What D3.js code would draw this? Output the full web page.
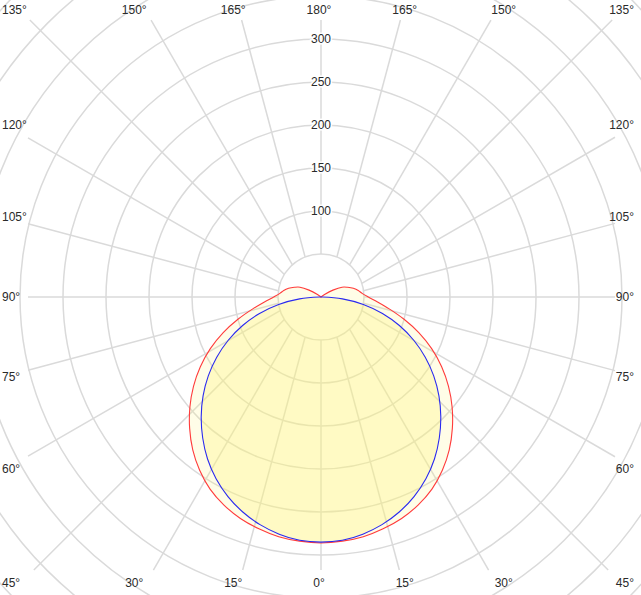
<!DOCTYPE html>
<html>
<head>
<meta charset="utf-8">
<script src="https://cdn.jsdelivr.net/npm/d3@7"></script>
<style>
  html, body { margin: 0; padding: 0; background: #fff; }
  svg { display: block; }
  text { font-family: "Liberation Sans", Arial, sans-serif; }
</style>
</head>
<body>
<script>
// ---- data ----
const gammaAngles = [0,5,10,15,20,25,30,35,40,45,50,55,60,65,70,75,80,85,90,
                     95,100,105,110,115,120,125,130,135,140,145,150,155,160,165,170,175,180];
// C0-C180 plane (red)
const planeC0C180 = [286,285,283,279,274,267,258,246,232,216,199,181,162,142,121,100,81,66,55,
                     48,44,39,33,27,16,5,1,0,0,0,0,0,0,0,0,0,0];
// C90-C270 plane (blue)
const planeC90C270 = [285,284,280,274,266,256,244,230,214,197,179,160,140,119,97,74,50,25,2,
                      0,0,0,0,0,0,0,0,0,0,0,0,0,0,0,0,0,0];
const gridValues = [50,100,150,200,250,300,350,400,450,500,550];
const valueLabels = [100,150,200,250,300];
const angleTicks = [0,15,30,45,60,75,90,105,120,135,150,165,180];

// ---- layout ----
const W = 641, H = 595;
const cx = 321, cy = 297;
const r = d3.scaleLinear().domain([0, 300]).range([0, 258]);
const lineBox = {left: cx - 293, right: cx + 294, top: cy - 277, bottom: cy + 273};
const labelHalfW = 298, labelHalfH = 320;

const svg = d3.select("body").append("svg").attr("width", W).attr("height", H);
const g = svg.append("g").attr("transform", `translate(${cx},${cy})`);
const toRad = d => d * Math.PI / 180;

// circles
g.append("g").selectAll("circle").data(gridValues).join("circle")
  .attr("r", d => r(d)).attr("fill", "none")
  .attr("stroke", "#dadada").attr("stroke-width", 1.5);

// radial lines
const spokes = [];
angleTicks.forEach(a => {
  const sides = (a === 0 || a === 180) ? [1] : [-1, 1];
  sides.forEach(s => spokes.push({a, s}));
});
const R0 = r(50);
function spokeSegment(d) {
  const th = toRad(d.a);
  const dx = d.s * Math.sin(th), dy = Math.cos(th);
  const e = -20 * Math.cos(th);
  const ox = 0, oy = e;
  const b = e * dy;
  const t0 = -b + Math.sqrt(b * b - e * e + R0 * R0);
  let t1 = Infinity;
  if (Math.abs(dx) > 1e-6) {
    const lim = dx > 0 ? (lineBox.right - cx) : (lineBox.left - cx);
    t1 = Math.min(t1, (lim - ox) / dx);
  }
  if (Math.abs(dy) > 1e-6) {
    const lim = dy > 0 ? (lineBox.bottom - cy) : (lineBox.top - cy);
    t1 = Math.min(t1, (lim - oy) / dy);
  }
  return {x1: ox + t0 * dx, y1: oy + t0 * dy, x2: ox + t1 * dx, y2: oy + t1 * dy};
}
g.append("g").selectAll("line").data(spokes).join("line")
  .each(function(d) {
    const p = spokeSegment(d);
    d3.select(this).attr("x1", p.x1).attr("y1", p.y1).attr("x2", p.x2).attr("y2", p.y2);
  })
  .attr("stroke", "#dadada").attr("stroke-width", 1.5);

// curves
function closedPoints(values) {
  const pts = [];
  gammaAngles.forEach((a, i) => pts.push([Math.PI - toRad(a), r(values[i])]));
  for (let i = gammaAngles.length - 2; i >= 1; i--)
    pts.push([Math.PI + toRad(gammaAngles[i]), r(values[i])]);
  return pts;
}
const radial = d3.lineRadial().angle(d => d[0]).radius(d => d[1]).curve(d3.curveCatmullRomClosed.alpha(0.5));
const redPts = closedPoints(planeC0C180);
const bluePts = closedPoints(planeC90C270);

g.append("path").attr("d", radial(redPts)).attr("fill", "rgba(255,245,120,0.18)").attr("stroke", "none");
g.append("path").attr("d", radial(bluePts)).attr("fill", "rgba(255,245,120,0.32)").attr("stroke", "none");
g.append("path").attr("d", radial(redPts)).attr("fill", "none").attr("stroke", "#ff3b3b").attr("stroke-width", 1.1);
g.append("path").attr("d", radial(bluePts)).attr("fill", "none").attr("stroke", "#2a2af0").attr("stroke-width", 1.1);

// value labels
g.append("g").selectAll("text").data(valueLabels).join("text")
  .attr("x", 0).attr("y", d => -r(d)).attr("dy", "0.35em")
  .attr("text-anchor", "middle").attr("font-size", 12).attr("fill", "#2a2a2a")
  .attr("stroke", "#fff").attr("stroke-width", 3).attr("paint-order", "stroke")
  .text(d => d);

// angle labels
function labelPos(d) {
  const th = toRad(d.a);
  const dx = d.s * Math.sin(th), dy = Math.cos(th);
  const tSide = Math.abs(dx) > 1e-6 ? labelHalfW / Math.abs(dx) : Infinity;
  const tTop = Math.abs(dy) > 1e-6 ? labelHalfH / Math.abs(dy) : Infinity;
  if (tSide <= tTop) {
    const py = Math.max(10, Math.min(583, cy + tSide * dy));
    return dx < 0 ? {x: 2, y: py, anchor: "start"} : {x: 634, y: py, anchor: "end"};
  }
  return {x: cx + tTop * dx - 2, y: dy > 0 ? 583 : 10, anchor: "middle"};
}
svg.append("g").selectAll("text").data(spokes).join("text")
  .each(function(d) {
    const p = labelPos(d);
    d3.select(this).attr("x", p.x).attr("y", p.y).attr("text-anchor", p.anchor);
  })
  .attr("dy", "0.35em").attr("font-size", 12).attr("fill", "#2a2a2a")
  .text(d => d.a + "°");
</script>
</body>
</html>
